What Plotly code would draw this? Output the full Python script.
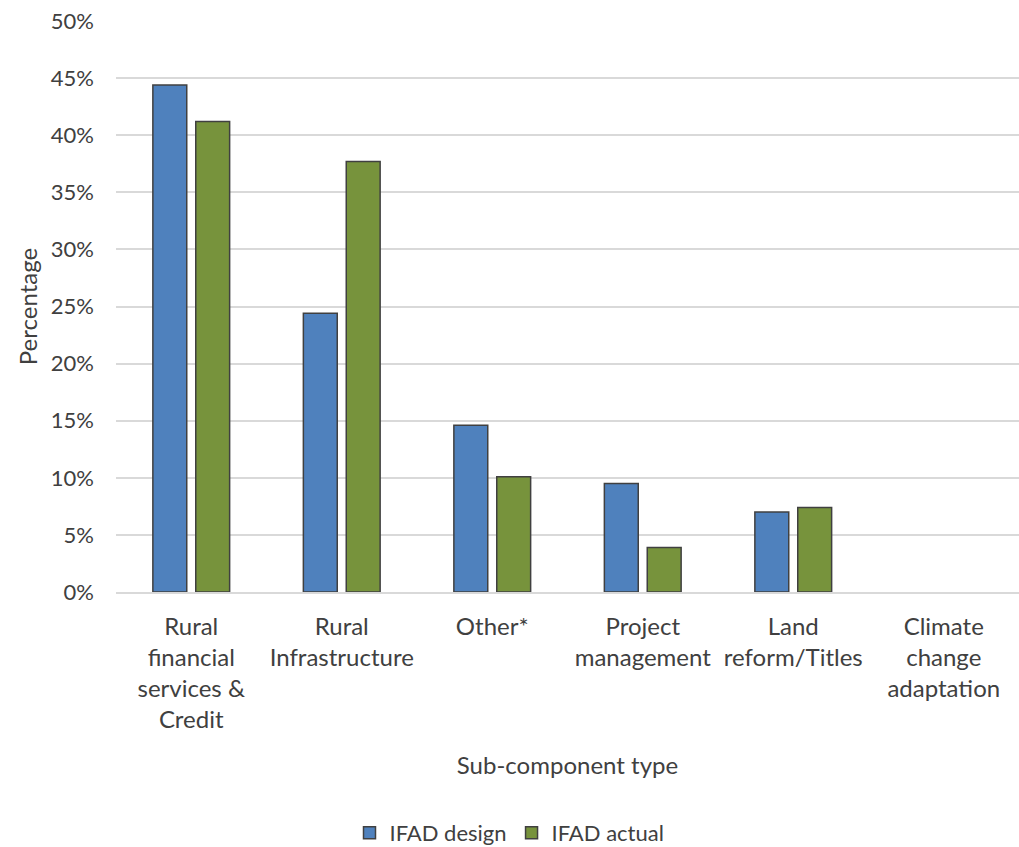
import plotly.graph_objects as go

categories = ["Rural<br>financial<br>services &<br>Credit", "Rural<br>Infrastructure", "Other*",
              "Project<br>management", "Land<br>reform/Titles", "Climate<br>change<br>adaptation"]
ifad_design = [0.444, 0.244, 0.146, 0.095, 0.070, 0.0]
ifad_actual = [0.412, 0.377, 0.101, 0.039, 0.074, 0.0]
tick_vals = [0, 0.05, 0.10, 0.15, 0.20, 0.25, 0.30, 0.35, 0.40, 0.45, 0.50]
tick_text = ["0%", "5%", "10%", "15%", "20%", "25%", "30%", "35%", "40%", "45%", "50%"]

FONT = "Lato, 'Open Sans', sans-serif"


def outline(vals):
    return dict(color="#404040", width=[1.5 if v > 0 else 0 for v in vals])


fig = go.Figure()
fig.add_trace(go.Bar(x=categories, y=ifad_design, name="IFAD design",
                     marker=dict(color="#4F81BD", line=outline(ifad_design))))
fig.add_trace(go.Bar(x=categories, y=ifad_actual, name="IFAD actual",
                     marker=dict(color="#77933C", line=outline(ifad_actual))))

fig.update_layout(
    width=1019, height=847,
    margin=dict(l=116, r=0, t=21, b=255),
    paper_bgcolor="white", plot_bgcolor="white",
    barmode="group", bargap=0.43, bargroupgap=0.21,
    font=dict(family=FONT, size=22, color="#404040"),
    showlegend=True,
    legend=dict(orientation="h", xref="container", x=0.5, xanchor="center",
                yref="container", y=(847 - 833) / 847, yanchor="middle",
                font=dict(size=22, color="#404040"), itemwidth=30, traceorder="normal"),
    xaxis=dict(title=dict(text="Sub-component type", font=dict(size=24), standoff=25),
               tickfont=dict(size=24), showgrid=False, showline=True,
               linecolor="#d9d9d9", linewidth=1.5, ticks="", ticklabelstandoff=12),
    yaxis=dict(title=dict(text="Percentage", font=dict(size=24), standoff=6),
               range=[0, 0.5], tickvals=tick_vals, ticktext=tick_text,
               tickfont=dict(size=22),
               showgrid=True, gridcolor="#d9d9d9", gridwidth=1.5,
               zeroline=False, showline=False, ticks="", ticklabelstandoff=21),
)

fig.write_html("out.html")
